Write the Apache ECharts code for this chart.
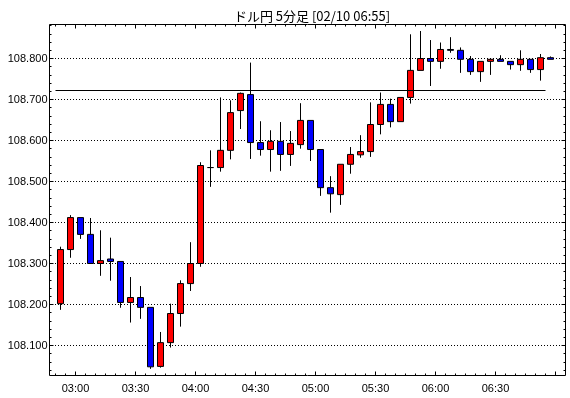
<!DOCTYPE html>
<html>
<head>
<meta http-equiv="Content-Type" content="text/html; charset=utf-8" />
<title>ドル円 5分足</title>
<style type="text/css">
body,div{margin:0;padding:0;}
#chart{width:570px;height:398px;background:#fff;}
</style>
<script src="https://cdn.jsdelivr.net/npm/echarts@6.0.0/dist/echarts.min.js" type="text/javascript"></script>
<script type="text/javascript">
// 5分足 02:50 - 06:55
var times = ['02:50','02:55','03:00','03:05','03:10','03:15','03:20','03:25','03:30','03:35',
             '03:40','03:45','03:50','03:55','04:00','04:05','04:10','04:15','04:20','04:25',
             '04:30','04:35','04:40','04:45','04:50','04:55','05:00','05:05','05:10','05:15',
             '05:20','05:25','05:30','05:35','05:40','05:45','05:50','05:55','06:00','06:05',
             '06:10','06:15','06:20','06:25','06:30','06:35','06:40','06:45','06:50','06:55'];
var opens  = [108.202,108.334,108.412,108.371,108.300,108.311,108.305,108.205,108.217,108.193,
              108.049,108.107,108.178,108.251,108.300,108.534,108.534,108.576,108.673,108.712,
              108.595,108.578,108.598,108.566,108.590,108.649,108.578,108.485,108.468,108.542,
              108.565,108.573,108.639,108.688,108.646,108.705,108.771,108.800,108.793,108.822,
              108.820,108.798,108.768,108.793,108.798,108.793,108.785,108.798,108.773,108.802];
var closes = [108.334,108.412,108.371,108.300,108.307,108.305,108.205,108.217,108.193,108.048,
              108.107,108.178,108.251,108.300,108.539,108.534,108.576,108.668,108.715,108.595,
              108.578,108.598,108.566,108.593,108.649,108.578,108.485,108.470,108.542,108.566,
              108.573,108.639,108.688,108.646,108.705,108.771,108.800,108.793,108.822,108.820,
              108.798,108.768,108.793,108.798,108.793,108.785,108.798,108.773,108.802,108.798];
var lows   = [108.187,108.314,108.360,108.300,108.270,108.258,108.192,108.156,108.165,108.043,
              108.046,108.095,108.146,108.233,108.292,108.487,108.524,108.554,108.628,108.555,
              108.563,108.524,108.526,108.538,108.580,108.550,108.465,108.424,108.443,108.519,
              108.558,108.560,108.615,108.632,108.646,108.690,108.771,108.733,108.775,108.814,
              108.765,108.760,108.743,108.760,108.793,108.773,108.770,108.765,108.746,108.798];
var highs  = [108.341,108.418,108.412,108.411,108.381,108.363,108.305,108.267,108.245,108.193,
              108.133,108.202,108.259,108.352,108.547,108.576,108.705,108.698,108.717,108.790,
              108.647,108.625,108.645,108.623,108.691,108.649,108.578,108.513,108.542,108.584,
              108.613,108.693,108.717,108.702,108.705,108.859,108.867,108.845,108.839,108.852,
              108.827,108.806,108.793,108.798,108.808,108.793,108.820,108.798,108.811,108.805];
var refLevel = 108.722;
var xTickLabels = ['03:00','03:30','04:00','04:30','05:00','05:30','06:00','06:30'];
var yTickLabels = ['108.100','108.200','108.300','108.400','108.500','108.600','108.700','108.800'];

var labelFont = 'Liberation Sans, Arial, sans-serif';

// 02:50 からの分
function toMin(t){
    var p = t.split(':');
    return (parseInt(p[0],10) - 2) * 60 + parseInt(p[1],10) - 50;
}

window.onload = function ()
{
    var myChart = echarts.init(document.getElementById('chart'));

    var candles = [];
    for (var i = 0; i < times.length; i++) {
        candles.push([toMin(times[i]) + 2.5, opens[i], closes[i], lows[i], highs[i]]);
    }

    var noAxis = function (g) {
        return {gridIndex: g, type: 'value', show: false, min: 0, max: 1,
                axisLine: {show: false, onZero: false}, axisTick: {show: false},
                axisLabel: {show: false}, splitLine: {show: false}};
    };
    var tickOnly = function (len) {
        return {show: true, inside: true, length: len, lineStyle: {color: '#000', width: 1}};
    };
    var minorX = function (pos) {
        return {gridIndex: 2, type: 'category', data: times, boundaryGap: true, position: pos,
                axisLine: {show: false, onZero: false}, axisLabel: {show: false},
                splitLine: {show: false},
                axisTick: {show: true, inside: true, length: 2, interval: 0,
                           lineStyle: {color: '#000', width: 1}}};
    };
    var minorY = function (pos) {
        return {gridIndex: 1, type: 'value', min: 108.04, max: 108.88, interval: 0.02, position: pos,
                axisLine: {show: false, onZero: false}, axisLabel: {show: false},
                splitLine: {show: false}, axisTick: tickOnly(2)};
    };

    var option = {
        animation: false,
        backgroundColor: '#fff',
        title: {
            text: 'ドル円 5分足 [02/10 06:55]',
            left: 307,
            top: 5,
            textAlign: 'center',
            textStyle: {fontSize: 13, fontWeight: 'normal', color: '#000',
                        fontFamily: 'Noto Sans CJK JP'}
        },
        grid: [
            // 0 枠
            {left: 49.5, top: 24.5, width: 516, height: 351, show: true,
             borderColor: '#000', borderWidth: 1, backgroundColor: '#fff', outerBoundsMode: 'none'},
            // 1 ローソク足 + 縦の細かい目盛
            {left: 49.5, top: 25.7, width: 516, height: 344.4, outerBoundsMode: 'none'},
            // 2 横の細かい目盛 (5分)
            {left: 55.5, top: 24.5, width: 500, height: 351, outerBoundsMode: 'none'},
            // 3 横の目盛とラベル (30分)
            {left: 75.5, top: 24.5, width: 480, height: 351, outerBoundsMode: 'none'},
            // 4 縦のラベルと点線
            {left: 49.5, top: 58.5, width: 516, height: 287, outerBoundsMode: 'none'}
        ],
        xAxis: [
            noAxis(0),
            {gridIndex: 1, type: 'value', min: -3, max: 255, show: false,
             axisLine: {show: false, onZero: false}},
            minorX('bottom'),
            minorX('top'),
            {gridIndex: 3, type: 'value', min: 0, max: 240, interval: 30, position: 'bottom',
             axisLine: {show: false, onZero: false}, splitLine: {show: false}, axisTick: tickOnly(4),
             axisLabel: {
                 show: true, margin: 8, color: '#000', fontSize: 11, fontFamily: labelFont,
                 formatter: function (v) { return xTickLabels[Math.round(v / 30)] || ''; }
             }},
            {gridIndex: 3, type: 'value', min: 0, max: 240, interval: 30, position: 'top',
             axisLine: {show: false, onZero: false}, axisLabel: {show: false}, splitLine: {show: false},
             axisTick: tickOnly(4)},
            noAxis(4)
        ],
        yAxis: [
            noAxis(0),
            minorY('left'),
            minorY('right'),
            noAxis(2),
            noAxis(3),
            {gridIndex: 4, type: 'value', min: 108.1, max: 108.8, interval: 0.1, position: 'left',
             axisLine: {show: false, onZero: false}, axisTick: tickOnly(4),
             splitLine: {show: true, lineStyle: {color: '#000', width: 1, type: [1, 2], dashOffset: 0.5}},
             axisLabel: {
                 show: true, margin: 2, color: '#000', fontSize: 11, fontFamily: labelFont,
                 formatter: function (v) { return yTickLabels[Math.round((v - 108.1) / 0.1)] || ''; }
             }},
            {gridIndex: 4, type: 'value', min: 108.1, max: 108.8, interval: 0.1, position: 'right',
             axisLine: {show: false, onZero: false}, axisLabel: {show: false}, splitLine: {show: false},
             axisTick: tickOnly(4)}
        ],
        series: [
            {
                name: 'USDJPY',
                type: 'candlestick',
                xAxisIndex: 1,
                yAxisIndex: 1,
                barWidth: 6,
                dimensions: ['t', 'open', 'close', 'lowest', 'highest'],
                encode: {x: 't', y: ['open', 'close', 'lowest', 'highest']},
                itemStyle: {
                    color: '#ff0000',
                    color0: '#0000ff',
                    borderColor: '#000',
                    borderColor0: '#000',
                    borderColorDoji: '#000',
                    borderWidth: 1
                },
                data: candles,
                markLine: {
                    silent: true,
                    symbol: 'none',
                    label: {show: false},
                    lineStyle: {color: '#000', width: 1, type: 'solid'},
                    data: [[{coord: [toMin('02:50'), refLevel]}, {coord: [toMin('06:55'), refLevel]}]]
                }
            }
        ]
    };
    myChart.setOption(option);
};
</script>
</head>
<body>
<div id="chart"></div>
</body>
</html>
